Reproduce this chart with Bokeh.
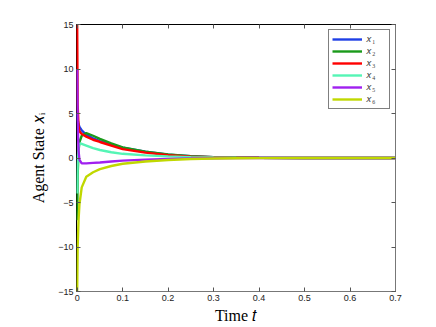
from bokeh.plotting import figure
from bokeh.models import Range1d, LinearAxis, FixedTicker, Legend, LegendItem, CustomJSTickFormatter
from bokeh.embed import file_html
from bokeh.resources import INLINE

# time samples
t = [0, 0.001, 0.003, 0.005, 0.01, 0.02, 0.035, 0.05, 0.075, 0.1, 0.15, 0.2, 0.25, 0.3, 0.35, 0.4, 0.5, 0.6, 0.7]
x1 = [5.0, 4.3, 3.8, 3.5, 3.1, 2.6, 2.2, 1.9, 1.5, 1.15, 0.7, 0.38, 0.2, 0.1, 0.05, 0.02, 0.0, 0.0, 0.0]
x2 = [-7.0, -2.0, 0.8, 1.8, 2.5, 2.8, 2.5, 2.15, 1.65, 1.2, 0.72, 0.4, 0.2, 0.1, 0.05, 0.02, 0.0, 0.0, 0.0]
x3 = [15.0, 6.0, 3.6, 3.0, 2.7, 2.4, 2.05, 1.8, 1.4, 1.0, 0.6, 0.32, 0.16, 0.08, 0.04, 0.02, 0.0, 0.0, 0.0]
x4 = [-4.0, -0.5, 1.2, 1.6, 1.6, 1.4, 1.1, 0.9, 0.65, 0.47, 0.3, 0.18, 0.1, 0.05, 0.02, 0.01, 0.0, 0.0, 0.0]
x5 = [10.0, 4.0, 0.8, -0.2, -0.6, -0.6, -0.55, -0.5, -0.4, -0.3, -0.18, -0.1, -0.05, -0.02, -0.01, 0.0, 0.0, 0.0, 0.0]
x6 = [-15.0, -10.0, -7.0, -5.2, -3.3, -2.1, -1.6, -1.25, -0.9, -0.65, -0.4, -0.22, -0.12, -0.06, -0.03, -0.01, 0.0, 0.0, 0.0]
series = [x1, x2, x3, x4, x5, x6]
names = ["\U0001D465\u2081", "\U0001D465\u2082", "\U0001D465\u2083", "\U0001D465\u2084", "\U0001D465\u2085", "\U0001D465\u2086"]
colors = ["#1f3fe6", "#1a9a1a", "#ff0000", "#55f5b5", "#a020f0", "#c0d800"]
xticks = [0, 0.1, 0.2, 0.3, 0.4, 0.5, 0.6, 0.7]
yticks = [-15, -10, -5, 0, 5, 10, 15]
xlabel = "Time \U0001D461"
ylabel = "Agent State \U0001D465\u1d62"

W, H = 430, 326
p = figure(width=W, height=H, output_backend="svg", toolbar_location=None,
           x_range=Range1d(-0.0015, 0.7), y_range=Range1d(-15, 15),
           min_border_left=76, min_border_right=W - 395, min_border_top=24, min_border_bottom=H - 291)
p.xgrid.visible = False
p.ygrid.visible = False
p.outline_line_color = "black"
p.outline_line_width = 1
p.background_fill_color = "white"
p.border_fill_color = "white"

for ax, ticks in ((p.xaxis[0], xticks), (p.yaxis[0], yticks)):
    ax.ticker = FixedTicker(ticks=ticks)
    ax.major_tick_in = 4
    ax.major_tick_out = 0
    ax.minor_tick_line_color = None
    ax.major_label_text_font = "Liberation Sans"
    ax.major_label_text_font_size = "9px"
    ax.major_label_text_color = "#222222"
    ax.axis_line_color = "#777777"
    ax.major_tick_line_color = "#555555"
    ax.axis_label_text_font = "Liberation Serif"
    ax.axis_label_text_font_style = "normal"
    ax.axis_label_text_font_size = "16px"
    ax.axis_label_text_color = "black"
p.xaxis[0].major_label_standoff = 3
p.yaxis[0].major_label_standoff = 3
p.yaxis[0].axis_line_color = None
p.xaxis[0].axis_label = xlabel
p.yaxis[0].axis_label = ylabel
p.xaxis[0].axis_label_standoff = 3
p.yaxis[0].axis_label_standoff = 8

blank = CustomJSTickFormatter(code="return ''")
top = LinearAxis(ticker=FixedTicker(ticks=xticks), formatter=blank, major_tick_in=4, major_tick_out=0,
                 minor_tick_line_color=None, axis_line_color="black", major_tick_line_color="#555555",
                 major_label_text_font_size="1px")
right = LinearAxis(ticker=FixedTicker(ticks=yticks), formatter=blank, major_tick_in=4, major_tick_out=0,
                   minor_tick_line_color=None, axis_line_color="#777777", major_tick_line_color="#555555",
                   major_label_text_font_size="1px")
p.add_layout(top, "above")
p.add_layout(right, "right")

items = []
for ys, nm, c in zip(series, names, colors):
    r = p.line(t, ys, line_color=c, line_width=2.4)
    items.append(LegendItem(label=nm, renderers=[r]))

leg = Legend(items=items, location="top_right")
leg.label_text_font = "Liberation Serif"
leg.label_text_font_size = "10px"
leg.glyph_width = 30
leg.glyph_height = 8
leg.label_height = 8
leg.label_standoff = 4
leg.spacing = 0
leg.padding = 3
leg.margin = 5
leg.border_line_color = "black"
leg.border_line_width = 1
leg.background_fill_alpha = 1
p.add_layout(leg)

open("out.html", "w").write(file_html(p, INLINE))
